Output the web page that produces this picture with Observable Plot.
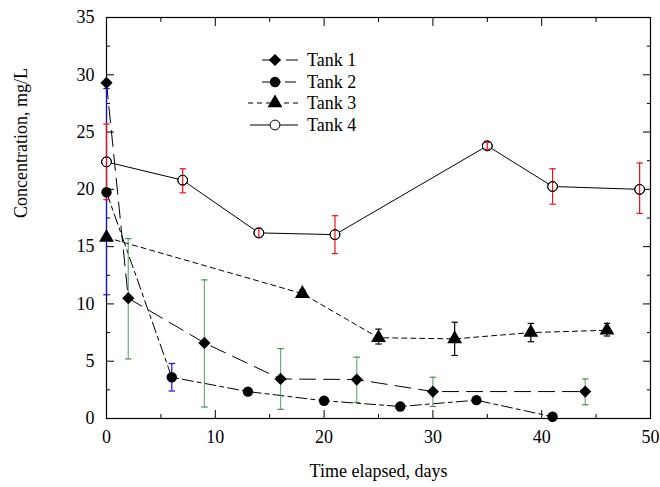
<!DOCTYPE html>
<html><head><meta charset="utf-8">
<script src="https://cdn.jsdelivr.net/npm/d3@7"></script>
<script src="https://cdn.jsdelivr.net/npm/@observablehq/plot@0.6"></script>
<style>body{margin:0;background:#fff}</style>
</head><body><div id="chart"></div>
<script>
// ---- data ----
const days1 = [0, 2, 9, 16, 23, 30, 44];
const tank1 = [29.3, 10.5, 6.6, 3.45, 3.4, 2.35, 2.35];
const tank1Lo = [null, 5.2, 1.0, 0.8, 1.4, 1.05, 1.2];
const tank1Hi = [null, 15.7, 12.1, 6.1, 5.35, 3.6, 3.45];

const days2 = [0, 6, 13, 20, 27, 34, 41];
const tank2 = [19.75, 3.6, 2.35, 1.55, 1.05, 1.6, 0.15];
const tank2Lo = [10.8, 2.4, null, null, 0.9, null, null];
const tank2Hi = [28.8, 4.8, null, null, 1.2, null, null];

const days3 = [0, 18, 25, 32, 39, 46];
const tank3 = [15.8, 10.9, 7.05, 6.95, 7.5, 7.7];
const tank3Lo = [null, 10.7, 6.5, 5.5, 6.7, 7.2];
const tank3Hi = [null, 11.2, 7.8, 8.4, 8.3, 8.3];

const days4 = [0, 7, 14, 21, 35, 41, 49];
const tank4 = [22.4, 20.8, 16.2, 16.05, 23.8, 20.25, 20.0];
const tank4Lo = [19.1, 19.7, 15.8, 14.4, 23.5, 18.7, 17.9];
const tank4Hi = [25.7, 21.8, 16.6, 17.7, 24.1, 21.8, 22.3];

const seriesNames = ["Tank 1", "Tank 2", "Tank 3", "Tank 4"];
const xMajor = [0, 10, 20, 30, 40, 50];
const xMinor = [5, 15, 25, 35, 45];
const yMajor = [0, 5, 10, 15, 20, 25, 30, 35];
const yMinor = [2.5, 7.5, 12.5, 17.5, 22.5, 27.5, 32.5];
const xTitle = "Time elapsed, days";
const yTitle = "Concentration, mg/L";

// ---- build tables ----
function rows(days, vals, lo, hi) {
  return days.map((d, i) => ({x: d, y: vals[i], lo: lo[i], hi: hi[i]}));
}
const s1 = rows(days1, tank1, tank1Lo, tank1Hi);
const s2 = rows(days2, tank2, tank2Lo, tank2Hi);
const s3 = rows(days3, tank3, tank3Lo, tank3Hi);
const s4 = rows(days4, tank4, tank4Lo, tank4Hi);
const hasErr = d => d.lo != null;

const FONT = "Liberation Serif, Times New Roman, serif";
const FS = 18;
const GREEN = "#3f8f55", BLUE = "#1010ee", RED = "#ee1111", BLACK = "#000";
const capSymbol = {draw(ctx) { ctx.moveTo(-3.2, 0); ctx.lineTo(3.2, 0); }};

const styles = [
  {data: s1, dash: "16,8", err: GREEN, symbol: "diamond2", r: 5.5, fill: "black", lx: [262, 298]},
  {data: s2, dash: "11,4,4,4", err: BLUE, symbol: "circle", r: 5.2, fill: "black", lx: [262, 298]},
  {data: s3, dash: "5,4", err: BLACK, symbol: "triangle", r: 5.5, fill: "black", lx: [248, 302]},
  {data: s4, dash: null, err: RED, symbol: "circle", r: 4.9, fill: "white", lx: [250, 298]}
];

function errMarks(st) {
  const e = st.data.filter(hasErr);
  return [
    Plot.ruleX(e, {x: "x", y1: "lo", y2: "hi", stroke: st.err, strokeWidth: 1.2, strokeOpacity: st.err === GREEN ? 0.75 : 1}),
    Plot.dot(e, {x: "x", y: "lo", symbol: capSymbol, stroke: st.err, fill: "none", strokeWidth: 1.2}),
    Plot.dot(e, {x: "x", y: "hi", symbol: capSymbol, stroke: st.err, fill: "none", strokeWidth: 1.2})
  ];
}

const axisCommon = {label: null, fontSize: FS, fontFamily: FONT};
const plot = Plot.plot({
  width: 660, height: 487,
  marginLeft: 106, marginRight: 10, marginTop: 17, marginBottom: 69,
  style: {fontFamily: FONT, fontSize: FS + "px", color: "black", background: "white", overflow: "visible"},
  x: {domain: [0, 50]},
  y: {domain: [0, 35]},
  marks: [
    // frame and inward ticks
    Plot.frame({stroke: "black", strokeWidth: 1.2}),
    Plot.axisX({...axisCommon, anchor: "bottom", ticks: xMajor, tickSize: -8, tickFormat: () => ""}),
    Plot.axisX({...axisCommon, anchor: "bottom", ticks: xMinor, tickSize: -4, tickFormat: () => ""}),
    Plot.axisX({...axisCommon, anchor: "top", ticks: xMajor, tickSize: -8, tickFormat: () => ""}),
    Plot.axisX({...axisCommon, anchor: "top", ticks: xMinor, tickSize: -4, tickFormat: () => ""}),
    Plot.axisY({...axisCommon, anchor: "left", ticks: yMajor, tickSize: -8, tickFormat: () => ""}),
    Plot.axisY({...axisCommon, anchor: "left", ticks: yMinor, tickSize: -4, tickFormat: () => ""}),
    Plot.axisY({...axisCommon, anchor: "right", ticks: yMajor, tickSize: -8, tickFormat: () => ""}),
    Plot.axisY({...axisCommon, anchor: "right", ticks: yMinor, tickSize: -4, tickFormat: () => ""}),
    // tick labels
    Plot.axisX({...axisCommon, anchor: "bottom", ticks: xMajor, tickSize: 0, tickPadding: 12}),
    Plot.axisY({...axisCommon, anchor: "left", ticks: yMajor, tickSize: 0, tickPadding: 12}),
    // axis titles
    Plot.text([xTitle], {frameAnchor: "bottom", dy: 58, text: d => d, fontSize: FS, fontFamily: FONT, fill: "black"}),
    Plot.text([yTitle], {frameAnchor: "left", dx: -85, rotate: -90, text: d => d, fontSize: FS, fontFamily: FONT, fill: "black"}),
    // lines
    ...styles.map(st => Plot.line(st.data, {x: "x", y: "y", stroke: "black", strokeWidth: 1, strokeDasharray: st.dash})),
    // open circles of Tank 4 under the bars
    Plot.dot(s4, {x: "x", y: "y", r: 4.9, stroke: "black", strokeWidth: 1, fill: "white"}),
    // error bars
    ...styles.flatMap(errMarks),
    // filled markers
    ...styles.slice(0, 3).map(st => Plot.dot(st.data, {x: "x", y: "y", symbol: st.symbol, r: st.r, fill: "black", stroke: "none"})),
    Plot.dot(s4, {x: "x", y: "y", r: 4.9, stroke: "black", strokeWidth: 1, fill: "none"})
  ]
});
document.getElementById("chart").appendChild(plot);

// ---- legend ----
const legendRows = [60, 82, 103, 125];
const svg = d3.select(plot);
const g = svg.append("g").attr("class", "legend").attr("text-anchor", "start");
const symMap = {diamond2: d3.symbolDiamond2, circle: d3.symbolCircle, triangle: d3.symbolTriangle};
styles.forEach((st, i) => {
  const y = legendRows[i];
  g.append("line").attr("x1", st.lx[0]).attr("x2", st.lx[1]).attr("y1", y).attr("y2", y)
    .attr("stroke", "black").attr("stroke-width", 1)
    .attr("stroke-dasharray", st.dash || null);
  g.append("path")
    .attr("d", d3.symbol(symMap[st.symbol], Math.PI * st.r * st.r)())
    .attr("transform", `translate(275,${y})`)
    .attr("fill", st.fill).attr("stroke", i === 3 ? "black" : "none");
  g.append("text").attr("x", 307).attr("y", y + 6)
    .attr("text-anchor", "start")
    .attr("font-family", FONT).attr("font-size", FS).attr("fill", "black")
    .text(seriesNames[i]);
});
</script>
</body></html>
